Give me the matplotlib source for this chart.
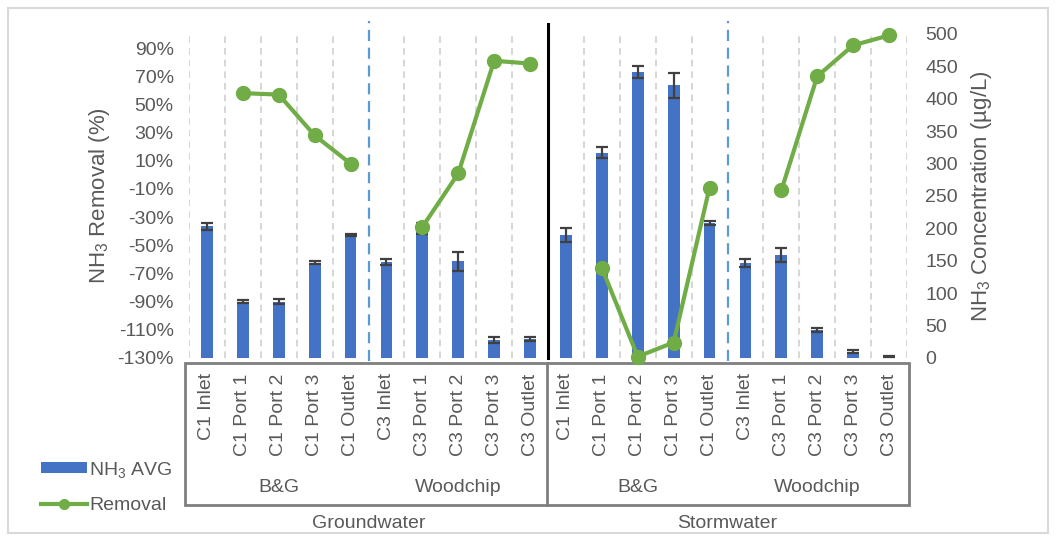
import numpy as np
import matplotlib
matplotlib.use("Agg")
import matplotlib.pyplot as plt
from matplotlib.patches import Patch, Rectangle
from matplotlib.lines import Line2D
from matplotlib.transforms import blended_transform_factory

plt.rcParams['font.family'] = ['Liberation Sans', 'DejaVu Sans']
plt.rcParams['mathtext.fontset'] = 'custom'
plt.rcParams['mathtext.rm'] = 'Liberation Sans'
plt.rcParams['mathtext.it'] = 'Liberation Sans:italic'
plt.rcParams['mathtext.bf'] = 'Liberation Sans:bold'

ports = ["C1 Inlet", "C1 Port 1", "C1 Port 2", "C1 Port 3", "C1 Outlet",
         "C3 Inlet", "C3 Port 1", "C3 Port 2", "C3 Port 3", "C3 Outlet"]
categories = ports + ports
media = ["B&G", "Woodchip", "B&G", "Woodchip"]
sources = ["Groundwater", "Stormwater"]

# NH3 concentration (ug/L), mean and error
nh3_avg = [203, 87, 87, 147, 190, 148, 200, 149, 28, 30,
           190, 317, 441, 421, 209, 147, 159, 43, 10, 2]
nh3_err = [5, 2, 4, 2, 2, 5, 8, 14, 5, 3,
           11, 9, 9, 19, 3, 6, 11, 3, 3, 1]

# Removal (%) relative to inlet; no value at the inlets
removal = [np.nan, 58, 57, 28, 8, np.nan, -37, 1, 81, 79,
           np.nan, -66, -129, -119, -9, np.nan, -11, 70, 92, 99]

W, H = 1056, 536
fig = plt.figure(figsize=(W / 100, H / 100), dpi=100)


def fx(px):
    return px / W


def fy(py):
    return 1 - py / H


gray_txt = "#595959"
left, right, top, bottom = 189, 907, 34, 358
ax = fig.add_axes([fx(left), fy(bottom), fx(right) - fx(left), fy(top) - fy(bottom)])
ax2 = ax.twinx()
ax.set_zorder(ax2.get_zorder() + 1)
ax.patch.set_visible(False)

x = np.arange(len(categories))
ax2.bar(x, nh3_avg, width=0.33, color="#4472C4", zorder=2)
ax2.errorbar(x, nh3_avg, yerr=nh3_err, fmt="none", ecolor="#404040",
             elinewidth=1.6, capsize=4, capthick=1.6, zorder=3)
ax.plot(x, removal, color="#70AD47", lw=3, marker="o", ms=10, zorder=4,
        clip_on=False)

ax.set_xlim(-0.5, len(categories) - 0.5)
ax.set_ylim(-130, 100)
ax.set_yticks(np.arange(-130, 91, 20))
ax.set_yticklabels([f"{v}%" for v in range(-130, 91, 20)])
ax2.set_ylim(0, 500)
ax2.set_yticks(np.arange(0, 501, 50))

for a in (ax, ax2):
    for s in a.spines.values():
        s.set_visible(False)
    a.tick_params(axis="y", length=0, labelsize=14, labelcolor=gray_txt)
ax.tick_params(axis="y", pad=11)
ax2.tick_params(axis="y", pad=13)

# vertical grid at category boundaries
for b in np.arange(-0.5, len(categories), 1.0):
    if b in (4.5, 9.5, 14.5):
        continue
    ax2.axvline(b, color="#D0D0D0", lw=1.2, ls=(0, (4, 3)), zorder=1)
for b in (4.5, 14.5):
    ax2.axvline(b, ymin=-0.01, ymax=1.04, color="#5B9BD5", lw=1.6,
                ls=(0, (5, 3)), zorder=1, clip_on=False)
ax2.axvline(9.5, ymin=0, ymax=1.03, color="black", lw=2.2, zorder=5,
            clip_on=False)

ax.set_xticks(x)
ax.set_xticklabels(categories, rotation=90, va="top", ha="center")
ax.tick_params(axis="x", length=0, pad=11, labelsize=14, labelcolor=gray_txt)

ax.set_ylabel("NH$_3$ Removal (%)", fontsize=16, color=gray_txt, labelpad=4)
ax2.set_ylabel("NH$_3$ Concentration (µg/L)", fontsize=16, color=gray_txt,
               labelpad=8)

# multi-level category box
box_col = "#7F7F7F"
fig.add_artist(Rectangle((fx(185), fy(505)), fx(909) - fx(185), fy(363) - fy(505),
                         fill=False, ec=box_col, lw=2, transform=fig.transFigure))
fig.add_artist(Line2D([fx(547), fx(547)], [fy(363), fy(505)], color=box_col, lw=2,
                      transform=fig.transFigure))

tr = blended_transform_factory(ax.transData, fig.transFigure)
for i, name in enumerate(media):
    fig.text(i * 5 + 2, fy(487), name, transform=tr, ha="center", va="center",
             fontsize=14, color=gray_txt)
for i, name in enumerate(sources):
    fig.text(i * 10 + 4.5, fy(523), name, transform=tr, ha="center", va="center",
             fontsize=14, color=gray_txt)

handles = [Patch(facecolor="#4472C4", edgecolor="none"),
           Line2D([0], [0], color="#70AD47", lw=3, marker="o", ms=7)]
fig.legend(handles, ["NH$_3$ AVG", "Removal"], loc="upper left",
           bbox_to_anchor=(fx(23), fy(442)), frameon=False, fontsize=14,
           handlelength=2.4, handleheight=0.5, handletextpad=0.1,
           labelspacing=0.9, labelcolor=gray_txt)

fig.add_artist(Rectangle((fx(8), fy(533)), fx(1048) - fx(8), fy(8) - fy(533),
                         fill=False, ec="#D9D9D9", lw=1.5, transform=fig.transFigure))

fig.savefig("out.png", dpi=100)
